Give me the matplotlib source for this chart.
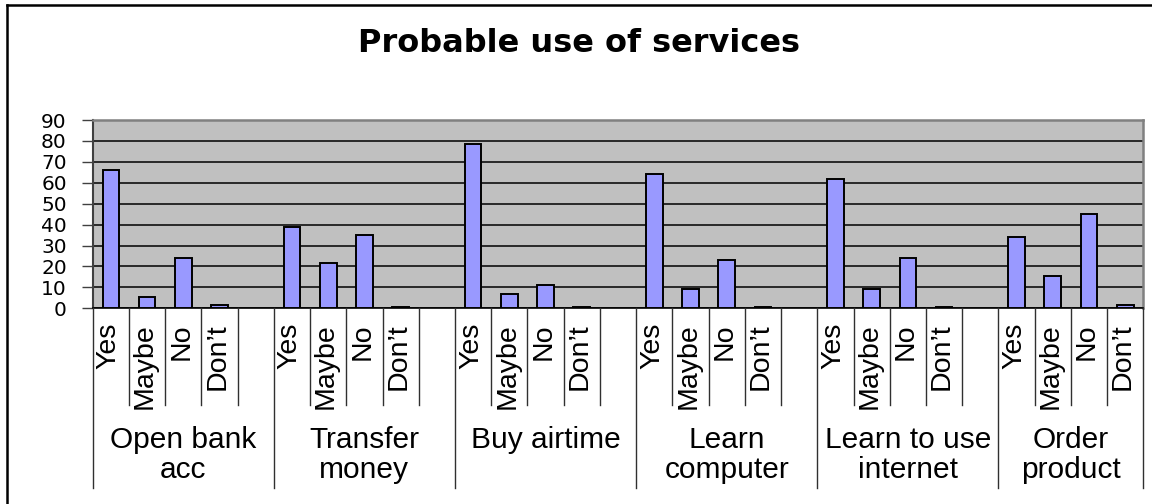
import matplotlib
matplotlib.use("Agg")
import matplotlib.pyplot as plt
from matplotlib.lines import Line2D
from matplotlib.transforms import blended_transform_factory

# Survey answers per service
responses = ["Yes", "Maybe", "No", "Don\u2019t"]
services = ["Open bank\nacc", "Transfer\nmoney", "Buy airtime",
            "Learn\ncomputer", "Learn to use\ninternet", "Order\nproduct"]
open_bank_acc = [66, 5.5, 24, 1.5]
transfer_money = [39, 21.5, 35, 0.8]
buy_airtime = [78.5, 7, 11, 0.5]
learn_computer = [64, 9.3, 23, 0.5]
learn_internet = [62, 9.3, 24, 0.5]
order_product = [34, 15.5, 45, 1.6]
yticks = list(range(0, 100, 10))

series = [open_bank_acc, transfer_money, buy_airtime,
          learn_computer, learn_internet, order_product]

BAR = "#9999FF"
PLOT_BG = "#C0C0C0"
LABEL_FONT = ["Liberation Sans", "DejaVu Sans"]

fig = plt.figure(figsize=(11.52, 5.04), dpi=100)
ax = fig.add_axes([0.0805, 0.3883, 0.912, 0.3736])
ax.set_facecolor(PLOT_BG)

# each service takes one slot per answer plus an empty slot as a gap
slot = len(responses) + 1
n_slots = slot * len(services) - 1
xs, vals = [], []
for g, vals_g in enumerate(series):
    for j, v in enumerate(vals_g):
        xs.append(g * slot + j)
        vals.append(v)

ax.bar(xs, vals, width=0.46, color=BAR, edgecolor="black", linewidth=1.4, zorder=3)

ax.set_xlim(-0.5, n_slots - 0.5)
ax.set_ylim(0, 90)
ax.set_yticks(yticks)
ax.set_yticklabels([str(t) for t in yticks], fontfamily="DejaVu Sans", fontsize=14.5)
ax.yaxis.grid(True, color="black", linewidth=1.1, zorder=1)
ax.set_axisbelow(True)
ax.tick_params(axis="y", length=7.7, width=1, color="#404040", pad=11)
ax.set_xticks([])

ax.spines["left"].set_color("#404040")
ax.spines["left"].set_linewidth(1.5)
ax.spines["bottom"].set_color("black")
ax.spines["bottom"].set_linewidth(1.2)
for s in ("top", "right"):
    ax.spines[s].set_color("#808080")
    ax.spines[s].set_linewidth(1.8)

# multi-level category axis below the plot
tr = blended_transform_factory(ax.transData, fig.transFigure)
y_axis = 1 - 308.3 / 504
y_inner = 1 - 405 / 504
y_outer = 1 - 488 / 504
group_edges = {g * slot - 0.5 for g in range(len(services))} | {n_slots - 0.5}
for b in range(n_slots + 1):
    xb = b - 0.5
    y_end = y_outer if xb in group_edges else y_inner
    fig.add_artist(Line2D([xb, xb], [y_axis, y_end], transform=tr,
                          color="#303030", linewidth=1.0))

for g, name in enumerate(services):
    for j, r in enumerate(responses):
        fig.text(g * slot + j - 0.06, 1 - 323 / 504, r, transform=tr, rotation=90,
                 ha="center", va="top", fontsize=20.5, family=LABEL_FONT)
    center = g * slot + (len(responses) - 1) / 2 + (0.5 if g < len(services) - 1 else 0)
    fig.text(center, 1 - 426 / 504, name, transform=tr, ha="center", va="top",
             fontsize=21.5, family=LABEL_FONT, linespacing=1.1)

fig.text(579 / 1152, 1 - 51.7 / 504, "Probable use of services", ha="center",
         va="baseline", fontsize=23, fontweight="bold", family="DejaVu Sans")

# chart border
fig.add_artist(Line2D([7.3 / 1152, 7.3 / 1152], [0, 1 - 5 / 504],
                      transform=fig.transFigure, color="black", linewidth=1.8))
fig.add_artist(Line2D([7.3 / 1152, 1], [1 - 5 / 504, 1 - 5 / 504],
                      transform=fig.transFigure, color="black", linewidth=1.8))

fig.savefig("out.png", dpi=100)
